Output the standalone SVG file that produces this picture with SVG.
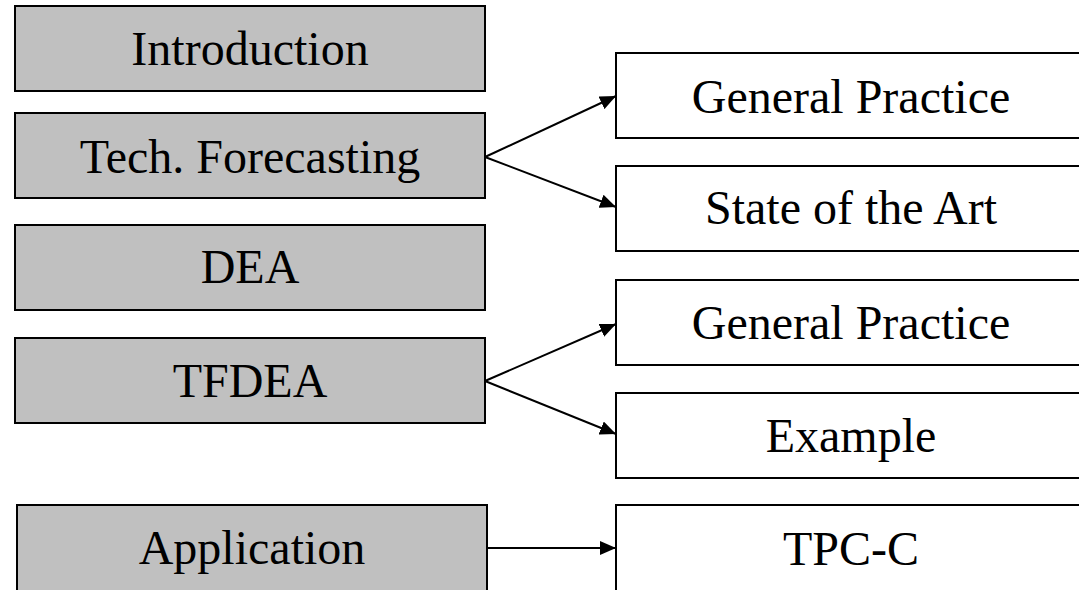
<svg xmlns="http://www.w3.org/2000/svg" width="1079" height="590" viewBox="0 0 1079 590">
<style>
.l{fill:#c0c0c0;stroke:#000;stroke-width:2}
.r{fill:#fff;stroke:#000;stroke-width:2}
text{font-family:"Liberation Serif","Times New Roman",serif;font-size:48px;fill:#000;text-anchor:middle}
.c{fill:none;stroke:#000;stroke-width:2;marker-end:url(#ah)}
</style>
<defs>
<marker id="ah" markerWidth="16" markerHeight="14" refX="16" refY="7" orient="auto" markerUnits="userSpaceOnUse">
<path d="M0,0 L16,7 L0,14 Z" fill="#000"/>
</marker>
</defs>
<rect width="1079" height="590" fill="#fff"/>
<g id="n-introduction"><rect class="l" x="15" y="6" width="470" height="85"/><text x="250" y="65">Introduction</text></g>
<g id="n-techforecasting"><rect class="l" x="15" y="113" width="470" height="85"/><text x="250" y="173">Tech. Forecasting</text></g>
<g id="n-dea"><rect class="l" x="15" y="225" width="470" height="85"/><text x="250" y="283">DEA</text></g>
<g id="n-tfdea"><rect class="l" x="15" y="338" width="470" height="85"/><text x="250" y="397">TFDEA</text></g>
<g id="n-application"><rect class="l" x="17" y="505" width="470" height="100"/><text x="252" y="564">Application</text></g>
<g id="n-gp1"><rect class="r" x="616" y="53" width="470" height="85"/><text x="851" y="113">General Practice</text></g>
<g id="n-sota"><rect class="r" x="616" y="166" width="470" height="85"/><text x="851" y="224">State of the Art</text></g>
<g id="n-gp2"><rect class="r" x="616" y="280" width="470" height="85"/><text x="851" y="339">General Practice</text></g>
<g id="n-example"><rect class="r" x="616" y="393" width="470" height="85"/><text x="851" y="452">Example</text></g>
<g id="n-tpcc"><rect class="r" x="616" y="505" width="470" height="100"/><text x="851" y="565">TPC-C</text></g>
<g id="connectors">
<path class="c" d="M485,157 L616,96"/>
<path class="c" d="M485,157 L616,207"/>
<path class="c" d="M485,381 L616,324"/>
<path class="c" d="M485,381 L616,434"/>
<path class="c" d="M487,548 L616,548"/>
</g>
</svg>
